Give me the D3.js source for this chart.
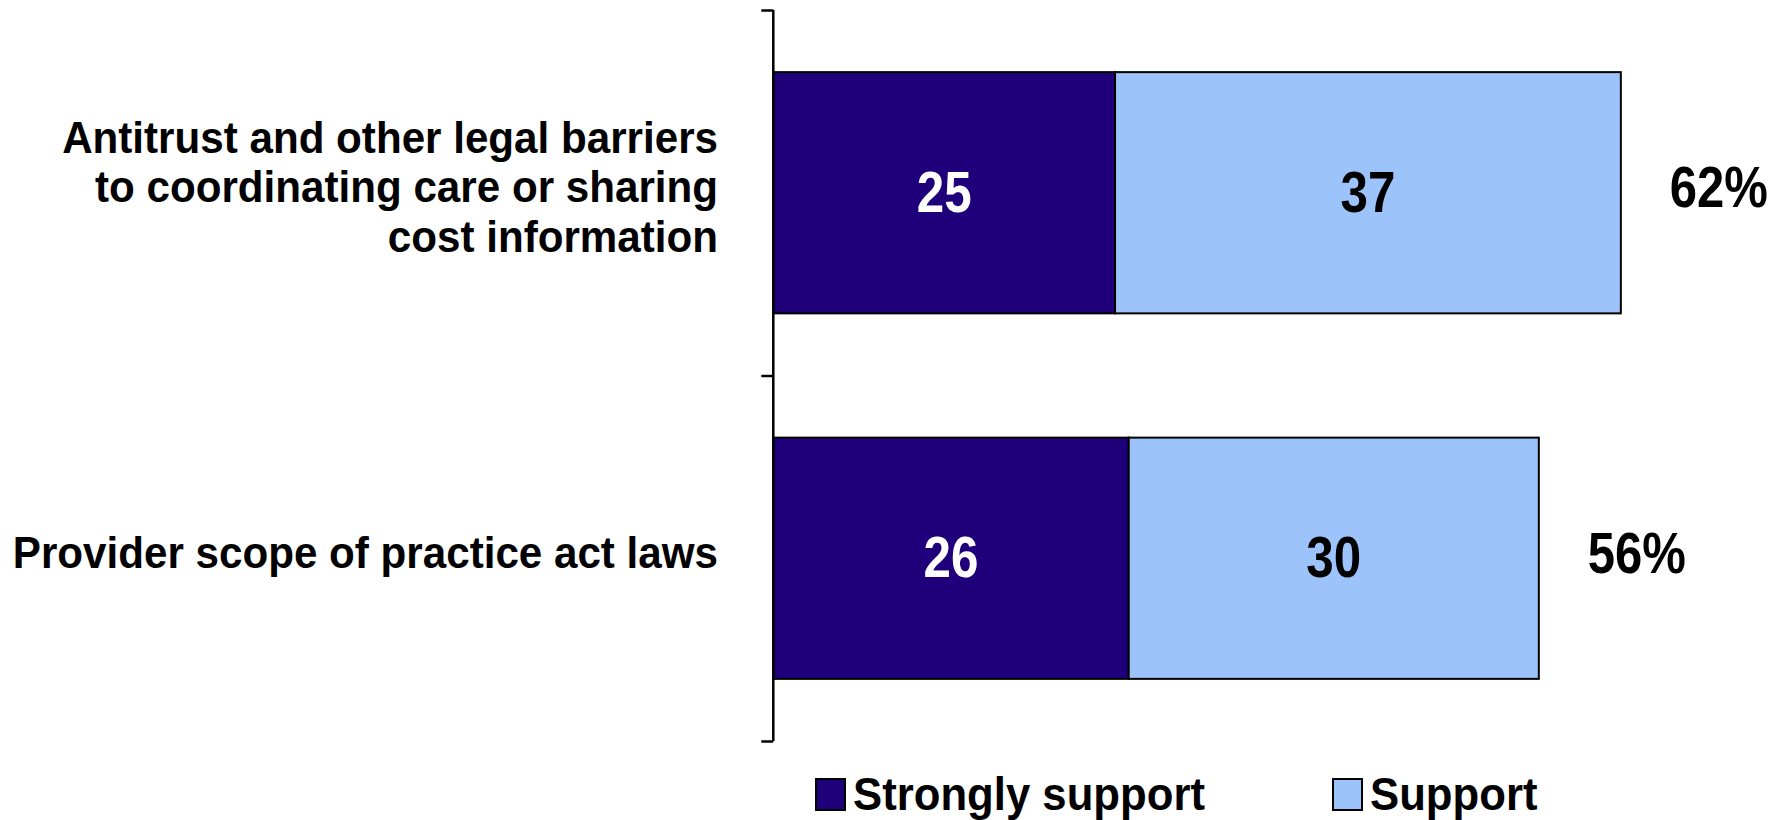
<!DOCTYPE html>
<html>
<head>
<meta charset="utf-8">
<script src="https://cdn.jsdelivr.net/npm/d3@7"></script>
<style>
  html, body { margin: 0; padding: 0; background: #fff; }
  svg { display: block; }
  text { font-family: "Liberation Sans", Arial, sans-serif; font-weight: bold; fill: #000; }
</style>
</head>
<body>
<svg id="chart" width="1787" height="820"></svg>
<script>
const categories = [
  ["Antitrust and other legal barriers", "to coordinating care or sharing", "cost information"],
  ["Provider scope of practice act laws"]
];
const seriesNames = ["Strongly support", "Support"];
const stronglySupport = [25, 26];
const support = [37, 30];
const totals = ["62%", "56%"];
const colors = ["#1F007A", "#9CC3FA"];
const labelColors = ["#fff", "#000"];

const svg = d3.select("#chart");
const x = d3.scaleLinear().domain([0, 100]).range([773.3, 773.3 + 1367]);
const y = d3.scaleBand().domain([0, 1]).range([10, 741]).paddingInner(0.34).paddingOuter(0.17);

const rows = categories.map((c, i) => ({ i, vals: [stronglySupport[i], support[i]] }));

// bars
rows.forEach(r => {
  let acc = 0;
  r.vals.forEach((v, k) => {
    const x0 = x(acc), x1 = x(acc + v);
    svg.append("rect")
      .attr("x", x0).attr("y", y(r.i))
      .attr("width", x1 - x0).attr("height", y.bandwidth())
      .attr("fill", colors[k]).attr("stroke", "#000").attr("stroke-width", 2);
    const cy = y(r.i) + y.bandwidth() / 2;
    svg.append("g").attr("transform", `translate(${(x0 + x1) / 2},${cy + 19}) scale(0.85,1)`)
      .append("text").attr("text-anchor", "middle")
      .style("font-size", "58px").style("fill", labelColors[k])
      .text(v);
    acc += v;
  });
  const cy = y(r.i) + y.bandwidth() / 2;
  svg.append("g").attr("transform", `translate(${x(acc) + 49},${cy + 14.5}) scale(0.86,1)`)
    .append("text").attr("text-anchor", "start")
    .style("font-size", "57px")
    .text(totals[r.i]);
});

// axis
const axis = d3.axisLeft(d3.scaleLinear().domain([0, 2]).range([10, 741]))
  .tickValues([0, 1, 2]).tickSize(12).tickFormat("");
const gAxis = svg.append("g").attr("transform", "translate(773.3,0)").call(axis);
gAxis.select(".domain").attr("stroke", "#000").attr("stroke-width", 2.5).attr("d", "M0,10V741");
gAxis.selectAll(".tick line").attr("stroke", "#000").attr("stroke-width", 2.5);

// category labels
categories.forEach((lines, i) => {
  const cy = y(i) + y.bandwidth() / 2;
  const g = svg.append("g").attr("transform", `translate(718,0) scale(0.937,1)`);
  const t = g.append("text").attr("text-anchor", "end").style("font-size", "45px");
  lines.forEach((ln, j) => {
    t.append("tspan").attr("x", 0)
      .attr("y", cy + 9.5 + (j - (lines.length - 1) / 2) * 49.5)
      .text(ln);
  });
});

// legend
const legendX = [816, 1333];
seriesNames.forEach((n, k) => {
  svg.append("rect").attr("x", legendX[k]).attr("y", 779)
    .attr("width", 29).attr("height", 31)
    .attr("fill", colors[k]).attr("stroke", "#000").attr("stroke-width", 2);
  svg.append("g").attr("transform", `translate(${legendX[k] + 37},810) scale(0.95,1)`)
    .append("text").style("font-size", "46px").text(n);
});
</script>
</body>
</html>
